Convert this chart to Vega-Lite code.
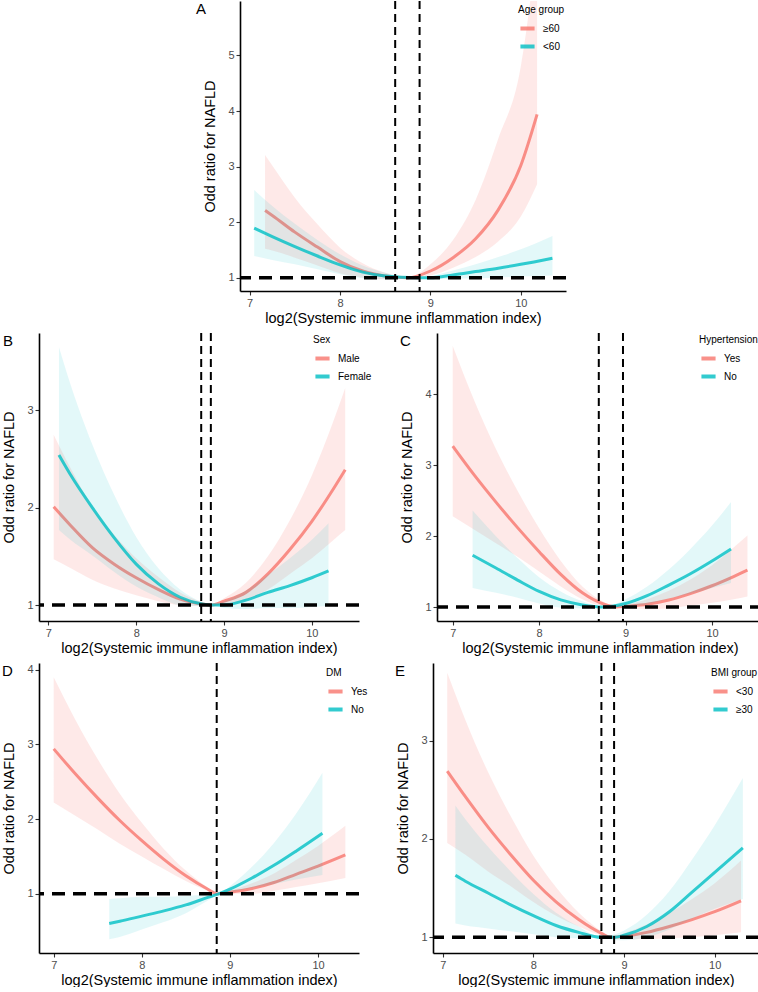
{
  "$schema": "https://vega.github.io/schema/vega-lite/v6.json",
  "padding": {"left": 1, "top": 0, "right": 0, "bottom": 0},
  "datasets": {
    "A": [
      {"g": "≥60", "x": 7.17, "y": 2.21, "lo": 1.52, "hi": 3.21},
      {"g": "≥60", "x": 7.25, "y": 2.12, "lo": 1.49, "hi": 3.02},
      {"g": "≥60", "x": 7.5, "y": 1.82, "lo": 1.36, "hi": 2.44},
      {"g": "≥60", "x": 7.75, "y": 1.55, "lo": 1.22, "hi": 1.96},
      {"g": "≥60", "x": 8.0, "y": 1.29, "lo": 1.08, "hi": 1.54},
      {"g": "≥60", "x": 8.25, "y": 1.12, "lo": 1.0, "hi": 1.26},
      {"g": "≥60", "x": 8.5, "y": 1.03, "lo": 0.97, "hi": 1.09},
      {"g": "≥60", "x": 8.75, "y": 1.0, "lo": 1.0, "hi": 1.0},
      {"g": "≥60", "x": 9.0, "y": 1.12, "lo": 1.04, "hi": 1.24},
      {"g": "≥60", "x": 9.25, "y": 1.36, "lo": 1.18, "hi": 1.68},
      {"g": "≥60", "x": 9.5, "y": 1.7, "lo": 1.37, "hi": 2.4},
      {"g": "≥60", "x": 9.75, "y": 2.22, "lo": 1.65, "hi": 3.5},
      {"g": "≥60", "x": 10.0, "y": 3.02, "lo": 2.1, "hi": 4.8},
      {"g": "≥60", "x": 10.18, "y": 3.94, "lo": 2.68, "hi": 7.0},
      {"g": "<60", "x": 7.05, "y": 1.89, "lo": 1.39, "hi": 2.58},
      {"g": "<60", "x": 7.25, "y": 1.74, "lo": 1.32, "hi": 2.29},
      {"g": "<60", "x": 7.5, "y": 1.56, "lo": 1.24, "hi": 1.97},
      {"g": "<60", "x": 7.75, "y": 1.39, "lo": 1.15, "hi": 1.68},
      {"g": "<60", "x": 8.0, "y": 1.23, "lo": 1.06, "hi": 1.42},
      {"g": "<60", "x": 8.25, "y": 1.1, "lo": 0.99, "hi": 1.22},
      {"g": "<60", "x": 8.5, "y": 1.03, "lo": 0.97, "hi": 1.09},
      {"g": "<60", "x": 8.85, "y": 1.0, "lo": 1.0, "hi": 1.0},
      {"g": "<60", "x": 9.0, "y": 1.0, "lo": 0.97, "hi": 1.03},
      {"g": "<60", "x": 9.25, "y": 1.05, "lo": 0.98, "hi": 1.13},
      {"g": "<60", "x": 9.5, "y": 1.11, "lo": 0.99, "hi": 1.24},
      {"g": "<60", "x": 9.75, "y": 1.17, "lo": 1.0, "hi": 1.37},
      {"g": "<60", "x": 10.0, "y": 1.24, "lo": 1.02, "hi": 1.51},
      {"g": "<60", "x": 10.35, "y": 1.35, "lo": 1.04, "hi": 1.75}
    ],
    "B": [
      {"g": "Male", "x": 7.06, "y": 2.01, "lo": 1.47, "hi": 2.75},
      {"g": "Male", "x": 7.25, "y": 1.82, "lo": 1.38, "hi": 2.41},
      {"g": "Male", "x": 7.5, "y": 1.59, "lo": 1.26, "hi": 2.01},
      {"g": "Male", "x": 7.75, "y": 1.42, "lo": 1.17, "hi": 1.72},
      {"g": "Male", "x": 8.0, "y": 1.28, "lo": 1.1, "hi": 1.48},
      {"g": "Male", "x": 8.25, "y": 1.16, "lo": 1.04, "hi": 1.29},
      {"g": "Male", "x": 8.5, "y": 1.06, "lo": 1.0, "hi": 1.13},
      {"g": "Male", "x": 8.75, "y": 1.01, "lo": 0.99, "hi": 1.03},
      {"g": "Male", "x": 8.85, "y": 1.0, "lo": 1.0, "hi": 1.0},
      {"g": "Male", "x": 9.0, "y": 1.04, "lo": 1.0, "hi": 1.07},
      {"g": "Male", "x": 9.25, "y": 1.13, "lo": 1.05, "hi": 1.23},
      {"g": "Male", "x": 9.5, "y": 1.32, "lo": 1.16, "hi": 1.5},
      {"g": "Male", "x": 9.75, "y": 1.57, "lo": 1.32, "hi": 1.87},
      {"g": "Male", "x": 10.0, "y": 1.86, "lo": 1.48, "hi": 2.33},
      {"g": "Male", "x": 10.25, "y": 2.2, "lo": 1.67, "hi": 2.9},
      {"g": "Male", "x": 10.38, "y": 2.39, "lo": 1.77, "hi": 3.23},
      {"g": "Female", "x": 7.12, "y": 2.54, "lo": 1.77, "hi": 3.65},
      {"g": "Female", "x": 7.25, "y": 2.34, "lo": 1.67, "hi": 3.27},
      {"g": "Female", "x": 7.5, "y": 2.0, "lo": 1.51, "hi": 2.65},
      {"g": "Female", "x": 7.75, "y": 1.69, "lo": 1.34, "hi": 2.13},
      {"g": "Female", "x": 8.0, "y": 1.42, "lo": 1.19, "hi": 1.7},
      {"g": "Female", "x": 8.25, "y": 1.22, "lo": 1.08, "hi": 1.38},
      {"g": "Female", "x": 8.5, "y": 1.08, "lo": 1.0, "hi": 1.16},
      {"g": "Female", "x": 8.75, "y": 1.01, "lo": 0.99, "hi": 1.03},
      {"g": "Female", "x": 8.85, "y": 1.0, "lo": 1.0, "hi": 1.0},
      {"g": "Female", "x": 9.0, "y": 1.0, "lo": 0.97, "hi": 1.04},
      {"g": "Female", "x": 9.25, "y": 1.05, "lo": 0.96, "hi": 1.15},
      {"g": "Female", "x": 9.5, "y": 1.13, "lo": 0.97, "hi": 1.31},
      {"g": "Female", "x": 9.75, "y": 1.2, "lo": 0.97, "hi": 1.48},
      {"g": "Female", "x": 10.0, "y": 1.28, "lo": 0.98, "hi": 1.67},
      {"g": "Female", "x": 10.19, "y": 1.35, "lo": 0.99, "hi": 1.84}
    ],
    "C": [
      {"g": "Yes", "x": 7.0, "y": 3.27, "lo": 2.28, "hi": 4.68},
      {"g": "Yes", "x": 7.25, "y": 2.86, "lo": 2.09, "hi": 3.91},
      {"g": "Yes", "x": 7.5, "y": 2.48, "lo": 1.9, "hi": 3.23},
      {"g": "Yes", "x": 7.75, "y": 2.12, "lo": 1.71, "hi": 2.64},
      {"g": "Yes", "x": 8.0, "y": 1.78, "lo": 1.5, "hi": 2.11},
      {"g": "Yes", "x": 8.25, "y": 1.46, "lo": 1.29, "hi": 1.65},
      {"g": "Yes", "x": 8.5, "y": 1.2, "lo": 1.11, "hi": 1.29},
      {"g": "Yes", "x": 8.75, "y": 1.04, "lo": 1.01, "hi": 1.07},
      {"g": "Yes", "x": 8.9, "y": 1.0, "lo": 1.0, "hi": 1.0},
      {"g": "Yes", "x": 9.0, "y": 1.01, "lo": 0.99, "hi": 1.03},
      {"g": "Yes", "x": 9.25, "y": 1.04, "lo": 0.97, "hi": 1.11},
      {"g": "Yes", "x": 9.5, "y": 1.1, "lo": 0.98, "hi": 1.23},
      {"g": "Yes", "x": 9.75, "y": 1.19, "lo": 1.02, "hi": 1.39},
      {"g": "Yes", "x": 10.0, "y": 1.3, "lo": 1.06, "hi": 1.59},
      {"g": "Yes", "x": 10.25, "y": 1.43, "lo": 1.11, "hi": 1.84},
      {"g": "Yes", "x": 10.41, "y": 1.52, "lo": 1.15, "hi": 2.01},
      {"g": "No", "x": 7.23, "y": 1.73, "lo": 1.27, "hi": 2.36},
      {"g": "No", "x": 7.5, "y": 1.55, "lo": 1.2, "hi": 2.0},
      {"g": "No", "x": 7.75, "y": 1.38, "lo": 1.13, "hi": 1.69},
      {"g": "No", "x": 8.0, "y": 1.22, "lo": 1.05, "hi": 1.42},
      {"g": "No", "x": 8.25, "y": 1.1, "lo": 0.99, "hi": 1.22},
      {"g": "No", "x": 8.5, "y": 1.03, "lo": 0.98, "hi": 1.08},
      {"g": "No", "x": 8.75, "y": 1.0, "lo": 1.0, "hi": 1.0},
      {"g": "No", "x": 9.0, "y": 1.05, "lo": 1.0, "hi": 1.11},
      {"g": "No", "x": 9.25, "y": 1.16, "lo": 1.04, "hi": 1.29},
      {"g": "No", "x": 9.5, "y": 1.31, "lo": 1.12, "hi": 1.53},
      {"g": "No", "x": 9.75, "y": 1.47, "lo": 1.19, "hi": 1.82},
      {"g": "No", "x": 10.0, "y": 1.65, "lo": 1.27, "hi": 2.15},
      {"g": "No", "x": 10.22, "y": 1.82, "lo": 1.34, "hi": 2.48}
    ],
    "D": [
      {"g": "Yes", "x": 7.0, "y": 2.94, "lo": 2.22, "hi": 3.9},
      {"g": "Yes", "x": 7.25, "y": 2.6, "lo": 2.04, "hi": 3.32},
      {"g": "Yes", "x": 7.5, "y": 2.28, "lo": 1.86, "hi": 2.8},
      {"g": "Yes", "x": 7.75, "y": 1.98, "lo": 1.67, "hi": 2.34},
      {"g": "Yes", "x": 8.0, "y": 1.71, "lo": 1.5, "hi": 1.95},
      {"g": "Yes", "x": 8.25, "y": 1.46, "lo": 1.33, "hi": 1.6},
      {"g": "Yes", "x": 8.5, "y": 1.24, "lo": 1.17, "hi": 1.31},
      {"g": "Yes", "x": 8.75, "y": 1.06, "lo": 1.04, "hi": 1.08},
      {"g": "Yes", "x": 8.85, "y": 1.0, "lo": 1.0, "hi": 1.0},
      {"g": "Yes", "x": 9.0, "y": 1.02, "lo": 1.0, "hi": 1.04},
      {"g": "Yes", "x": 9.25, "y": 1.07, "lo": 1.0, "hi": 1.14},
      {"g": "Yes", "x": 9.5, "y": 1.15, "lo": 1.04, "hi": 1.27},
      {"g": "Yes", "x": 9.75, "y": 1.26, "lo": 1.09, "hi": 1.45},
      {"g": "Yes", "x": 10.0, "y": 1.37, "lo": 1.14, "hi": 1.64},
      {"g": "Yes", "x": 10.31, "y": 1.52, "lo": 1.21, "hi": 1.91},
      {"g": "No", "x": 7.63, "y": 0.6, "lo": 0.39, "hi": 0.93},
      {"g": "No", "x": 7.75, "y": 0.63, "lo": 0.42, "hi": 0.94},
      {"g": "No", "x": 8.0, "y": 0.7, "lo": 0.52, "hi": 0.96},
      {"g": "No", "x": 8.25, "y": 0.77, "lo": 0.62, "hi": 0.96},
      {"g": "No", "x": 8.5, "y": 0.85, "lo": 0.74, "hi": 0.97},
      {"g": "No", "x": 8.75, "y": 0.95, "lo": 0.91, "hi": 0.99},
      {"g": "No", "x": 8.88, "y": 1.0, "lo": 1.0, "hi": 1.0},
      {"g": "No", "x": 9.0, "y": 1.06, "lo": 1.02, "hi": 1.1},
      {"g": "No", "x": 9.25, "y": 1.21, "lo": 1.08, "hi": 1.36},
      {"g": "No", "x": 9.5, "y": 1.38, "lo": 1.13, "hi": 1.68},
      {"g": "No", "x": 9.75, "y": 1.57, "lo": 1.19, "hi": 2.07},
      {"g": "No", "x": 10.05, "y": 1.81, "lo": 1.25, "hi": 2.62}
    ],
    "E": [
      {"g": "<30", "x": 7.05, "y": 2.69, "lo": 1.96, "hi": 3.69},
      {"g": "<30", "x": 7.25, "y": 2.43, "lo": 1.84, "hi": 3.21},
      {"g": "<30", "x": 7.5, "y": 2.12, "lo": 1.67, "hi": 2.68},
      {"g": "<30", "x": 7.75, "y": 1.84, "lo": 1.52, "hi": 2.23},
      {"g": "<30", "x": 8.0, "y": 1.58, "lo": 1.36, "hi": 1.83},
      {"g": "<30", "x": 8.25, "y": 1.36, "lo": 1.22, "hi": 1.51},
      {"g": "<30", "x": 8.5, "y": 1.18, "lo": 1.11, "hi": 1.25},
      {"g": "<30", "x": 8.75, "y": 1.04, "lo": 1.02, "hi": 1.06},
      {"g": "<30", "x": 8.85, "y": 1.0, "lo": 1.0, "hi": 1.0},
      {"g": "<30", "x": 9.0, "y": 1.01, "lo": 0.98, "hi": 1.04},
      {"g": "<30", "x": 9.25, "y": 1.05, "lo": 0.98, "hi": 1.13},
      {"g": "<30", "x": 9.5, "y": 1.11, "lo": 0.99, "hi": 1.25},
      {"g": "<30", "x": 9.75, "y": 1.18, "lo": 1.0, "hi": 1.39},
      {"g": "<30", "x": 10.0, "y": 1.26, "lo": 1.02, "hi": 1.55},
      {"g": "<30", "x": 10.29, "y": 1.37, "lo": 1.05, "hi": 1.78},
      {"g": "≥30", "x": 7.14, "y": 1.63, "lo": 1.14, "hi": 2.34},
      {"g": "≥30", "x": 7.25, "y": 1.57, "lo": 1.12, "hi": 2.2},
      {"g": "≥30", "x": 7.5, "y": 1.45, "lo": 1.09, "hi": 1.92},
      {"g": "≥30", "x": 7.75, "y": 1.33, "lo": 1.06, "hi": 1.67},
      {"g": "≥30", "x": 8.0, "y": 1.22, "lo": 1.03, "hi": 1.44},
      {"g": "≥30", "x": 8.25, "y": 1.12, "lo": 1.0, "hi": 1.25},
      {"g": "≥30", "x": 8.5, "y": 1.05, "lo": 0.99, "hi": 1.11},
      {"g": "≥30", "x": 8.75, "y": 1.0, "lo": 1.0, "hi": 1.0},
      {"g": "≥30", "x": 8.9, "y": 1.0, "lo": 0.97, "hi": 1.03},
      {"g": "≥30", "x": 9.0, "y": 1.02, "lo": 0.97, "hi": 1.07},
      {"g": "≥30", "x": 9.25, "y": 1.11, "lo": 1.0, "hi": 1.23},
      {"g": "≥30", "x": 9.5, "y": 1.26, "lo": 1.08, "hi": 1.47},
      {"g": "≥30", "x": 9.75, "y": 1.46, "lo": 1.19, "hi": 1.79},
      {"g": "≥30", "x": 10.0, "y": 1.66, "lo": 1.29, "hi": 2.14},
      {"g": "≥30", "x": 10.31, "y": 1.91, "lo": 1.39, "hi": 2.62}
    ],
    "A_k": [{"k": 8.61}, {"k": 8.88}],
    "B_k": [{"k": 8.74}, {"k": 8.85}],
    "C_k": [{"k": 8.69}, {"k": 8.97}],
    "D_k": [{"k": 8.85}],
    "E_k": [{"k": 8.75}, {"k": 8.89}],
    "ref": [{"ref": 1}]
  },
  "spacing": 7,
  "resolve": {"scale": {"color": "independent"}, "legend": {"color": "independent"}},
  "vconcat": [
    {
      "hconcat": [
        {"width": 157, "height": 10, "data": {"name": "ref"}, "mark": {"type": "point", "opacity": 0}, "encoding": {}},
        {
          "width": 326, "height": 290,
          "title": {"text": "A", "dx": -44},
          "layer": [
            {"data": {"name": "A"}, "transform": [{"filter": "datum.g === '≥60'"}],
             "mark": {"type": "area", "opacity": 0.16, "interpolate": "monotone", "clip": true},
             "encoding": {
               "x": {"field": "x", "type": "quantitative", "scale": {"domain": [6.893, 10.5], "nice": false, "zero": false}, "axis": {"values": [7, 8, 9, 10], "format": "d"}, "title": "log2(Systemic immune inflammation index)"},
               "y": {"field": "lo", "type": "quantitative", "scale": {"domain": [0.76, 5.98], "nice": false, "zero": false}, "axis": {"values": [1, 2, 3, 4, 5], "format": "d"}, "title": "Odd ratio for NAFLD"},
               "y2": {"field": "hi"},
               "color": {"field": "g", "type": "nominal", "scale": {"domain": ["≥60", "<60"], "range": ["#F8766D", "#00BFC4"]}, "legend": {"title": "Age group", "orient": "none", "legendX": 278, "legendY": 4}}}},
            {"data": {"name": "A"}, "transform": [{"filter": "datum.g === '≥60'"}],
             "mark": {"type": "line", "strokeWidth": 3, "opacity": 0.8, "interpolate": "monotone", "clip": true},
             "encoding": {
               "x": {"field": "x", "type": "quantitative", "title": "log2(Systemic immune inflammation index)"},
               "y": {"field": "y", "type": "quantitative", "title": "Odd ratio for NAFLD"},
               "color": {"field": "g", "type": "nominal", "scale": {"domain": ["≥60", "<60"], "range": ["#F8766D", "#00BFC4"]}, "legend": {"title": "Age group", "orient": "none", "legendX": 278, "legendY": 4}}}},
            {"data": {"name": "A"}, "transform": [{"filter": "datum.g === '<60'"}],
             "mark": {"type": "area", "opacity": 0.11, "interpolate": "monotone", "clip": true},
             "encoding": {
               "x": {"field": "x", "type": "quantitative", "title": "log2(Systemic immune inflammation index)"},
               "y": {"field": "lo", "type": "quantitative", "title": "Odd ratio for NAFLD"},
               "y2": {"field": "hi"},
               "color": {"field": "g", "type": "nominal", "scale": {"domain": ["≥60", "<60"], "range": ["#F8766D", "#00BFC4"]}, "legend": {"title": "Age group", "orient": "none", "legendX": 278, "legendY": 4}}}},
            {"data": {"name": "A"}, "transform": [{"filter": "datum.g === '<60'"}],
             "mark": {"type": "line", "strokeWidth": 3, "opacity": 0.8, "interpolate": "monotone", "clip": true},
             "encoding": {
               "x": {"field": "x", "type": "quantitative", "title": "log2(Systemic immune inflammation index)"},
               "y": {"field": "y", "type": "quantitative", "title": "Odd ratio for NAFLD"},
               "color": {"field": "g", "type": "nominal", "scale": {"domain": ["≥60", "<60"], "range": ["#F8766D", "#00BFC4"]}, "legend": {"title": "Age group", "orient": "none", "legendX": 278, "legendY": 4}}}},
            {"data": {"name": "ref"}, "mark": {"type": "rule", "color": "black", "strokeWidth": 3.5, "strokeDash": [13, 8]},
             "encoding": {"y": {"field": "ref", "type": "quantitative", "title": "Odd ratio for NAFLD"}}},
            {"data": {"name": "A_k"}, "mark": {"type": "rule", "color": "black", "strokeWidth": 2, "strokeDash": [8, 5]},
             "encoding": {"x": {"field": "k", "type": "quantitative", "title": "log2(Systemic immune inflammation index)"}}}
          ]
        }
      ],
      "spacing": 0,
      "resolve": {"scale": {"color": "independent"}, "legend": {"color": "independent"}}
    },
    {
      "hconcat": [
        {
          "width": 320, "height": 288,
          "title": {"text": "B", "dx": -36},
          "layer": [
            {"data": {"name": "B"}, "transform": [{"filter": "datum.g === 'Male'"}],
             "mark": {"type": "area", "opacity": 0.16, "interpolate": "monotone", "clip": true},
             "encoding": {
               "x": {"field": "x", "type": "quantitative", "scale": {"domain": [6.893, 10.537], "nice": false, "zero": false}, "axis": {"values": [7, 8, 9, 10], "format": "d"}, "title": "log2(Systemic immune inflammation index)"},
               "y": {"field": "lo", "type": "quantitative", "scale": {"domain": [0.836, 3.794], "nice": false, "zero": false}, "axis": {"values": [1, 2, 3], "format": "d"}, "title": "Odd ratio for NAFLD"},
               "y2": {"field": "hi"},
               "color": {"field": "g", "type": "nominal", "scale": {"domain": ["Male", "Female"], "range": ["#F8766D", "#00BFC4"]}, "legend": {"title": "Sex", "orient": "none", "legendX": 274, "legendY": 2}}}},
            {"data": {"name": "B"}, "transform": [{"filter": "datum.g === 'Male'"}],
             "mark": {"type": "line", "strokeWidth": 3, "opacity": 0.8, "interpolate": "monotone", "clip": true},
             "encoding": {
               "x": {"field": "x", "type": "quantitative", "title": "log2(Systemic immune inflammation index)"},
               "y": {"field": "y", "type": "quantitative", "title": "Odd ratio for NAFLD"},
               "color": {"field": "g", "type": "nominal", "scale": {"domain": ["Male", "Female"], "range": ["#F8766D", "#00BFC4"]}, "legend": {"title": "Sex", "orient": "none", "legendX": 274, "legendY": 2}}}},
            {"data": {"name": "B"}, "transform": [{"filter": "datum.g === 'Female'"}],
             "mark": {"type": "area", "opacity": 0.11, "interpolate": "monotone", "clip": true},
             "encoding": {
               "x": {"field": "x", "type": "quantitative", "title": "log2(Systemic immune inflammation index)"},
               "y": {"field": "lo", "type": "quantitative", "title": "Odd ratio for NAFLD"},
               "y2": {"field": "hi"},
               "color": {"field": "g", "type": "nominal", "scale": {"domain": ["Male", "Female"], "range": ["#F8766D", "#00BFC4"]}, "legend": {"title": "Sex", "orient": "none", "legendX": 274, "legendY": 2}}}},
            {"data": {"name": "B"}, "transform": [{"filter": "datum.g === 'Female'"}],
             "mark": {"type": "line", "strokeWidth": 3, "opacity": 0.8, "interpolate": "monotone", "clip": true},
             "encoding": {
               "x": {"field": "x", "type": "quantitative", "title": "log2(Systemic immune inflammation index)"},
               "y": {"field": "y", "type": "quantitative", "title": "Odd ratio for NAFLD"},
               "color": {"field": "g", "type": "nominal", "scale": {"domain": ["Male", "Female"], "range": ["#F8766D", "#00BFC4"]}, "legend": {"title": "Sex", "orient": "none", "legendX": 274, "legendY": 2}}}},
            {"data": {"name": "ref"}, "mark": {"type": "rule", "color": "black", "strokeWidth": 3.5, "strokeDash": [13, 8]},
             "encoding": {"y": {"field": "ref", "type": "quantitative", "title": "Odd ratio for NAFLD"}}},
            {"data": {"name": "B_k"}, "mark": {"type": "rule", "color": "black", "strokeWidth": 2, "strokeDash": [8, 5]},
             "encoding": {"x": {"field": "k", "type": "quantitative", "title": "log2(Systemic immune inflammation index)"}}}
          ]
        },
        {
          "width": 326, "height": 288,
          "title": {"text": "C", "dx": -37},
          "layer": [
            {"data": {"name": "C"}, "transform": [{"filter": "datum.g === 'Yes'"}],
             "mark": {"type": "area", "opacity": 0.16, "interpolate": "monotone", "clip": true},
             "encoding": {
               "x": {"field": "x", "type": "quantitative", "scale": {"domain": [6.818, 10.59], "nice": false, "zero": false}, "axis": {"values": [7, 8, 9, 10], "format": "d"}, "title": "log2(Systemic immune inflammation index)"},
               "y": {"field": "lo", "type": "quantitative", "scale": {"domain": [0.803, 4.865], "nice": false, "zero": false}, "axis": {"values": [1, 2, 3, 4], "format": "d"}, "title": "Odd ratio for NAFLD"},
               "y2": {"field": "hi"},
               "color": {"field": "g", "type": "nominal", "scale": {"domain": ["Yes", "No"], "range": ["#F8766D", "#00BFC4"]}, "legend": {"title": "Hypertension", "orient": "none", "legendX": 262, "legendY": 2}}}},
            {"data": {"name": "C"}, "transform": [{"filter": "datum.g === 'Yes'"}],
             "mark": {"type": "line", "strokeWidth": 3, "opacity": 0.8, "interpolate": "monotone", "clip": true},
             "encoding": {
               "x": {"field": "x", "type": "quantitative", "title": "log2(Systemic immune inflammation index)"},
               "y": {"field": "y", "type": "quantitative", "title": "Odd ratio for NAFLD"},
               "color": {"field": "g", "type": "nominal", "scale": {"domain": ["Yes", "No"], "range": ["#F8766D", "#00BFC4"]}, "legend": {"title": "Hypertension", "orient": "none", "legendX": 262, "legendY": 2}}}},
            {"data": {"name": "C"}, "transform": [{"filter": "datum.g === 'No'"}],
             "mark": {"type": "area", "opacity": 0.11, "interpolate": "monotone", "clip": true},
             "encoding": {
               "x": {"field": "x", "type": "quantitative", "title": "log2(Systemic immune inflammation index)"},
               "y": {"field": "lo", "type": "quantitative", "title": "Odd ratio for NAFLD"},
               "y2": {"field": "hi"},
               "color": {"field": "g", "type": "nominal", "scale": {"domain": ["Yes", "No"], "range": ["#F8766D", "#00BFC4"]}, "legend": {"title": "Hypertension", "orient": "none", "legendX": 262, "legendY": 2}}}},
            {"data": {"name": "C"}, "transform": [{"filter": "datum.g === 'No'"}],
             "mark": {"type": "line", "strokeWidth": 3, "opacity": 0.8, "interpolate": "monotone", "clip": true},
             "encoding": {
               "x": {"field": "x", "type": "quantitative", "title": "log2(Systemic immune inflammation index)"},
               "y": {"field": "y", "type": "quantitative", "title": "Odd ratio for NAFLD"},
               "color": {"field": "g", "type": "nominal", "scale": {"domain": ["Yes", "No"], "range": ["#F8766D", "#00BFC4"]}, "legend": {"title": "Hypertension", "orient": "none", "legendX": 262, "legendY": 2}}}},
            {"data": {"name": "ref"}, "mark": {"type": "rule", "color": "black", "strokeWidth": 3.5, "strokeDash": [13, 8]},
             "encoding": {"y": {"field": "ref", "type": "quantitative", "title": "Odd ratio for NAFLD"}}},
            {"data": {"name": "C_k"}, "mark": {"type": "rule", "color": "black", "strokeWidth": 2, "strokeDash": [8, 5]},
             "encoding": {"x": {"field": "k", "type": "quantitative", "title": "log2(Systemic immune inflammation index)"}}}
          ]
        }
      ],
      "spacing": 27,
      "resolve": {"scale": {"color": "independent"}, "legend": {"color": "independent"}}
    },
    {
      "hconcat": [
        {
          "width": 320, "height": 290,
          "title": {"text": "D", "dx": -37},
          "layer": [
            {"data": {"name": "D"}, "transform": [{"filter": "datum.g === 'Yes'"}],
             "mark": {"type": "area", "opacity": 0.16, "interpolate": "monotone", "clip": true},
             "encoding": {
               "x": {"field": "x", "type": "quantitative", "scale": {"domain": [6.833, 10.465], "nice": false, "zero": false}, "axis": {"values": [7, 8, 9, 10], "format": "d"}, "title": "log2(Systemic immune inflammation index)"},
               "y": {"field": "lo", "type": "quantitative", "scale": {"domain": [0.206, 4.09], "nice": false, "zero": false}, "axis": {"values": [1, 2, 3, 4], "format": "d"}, "title": "Odd ratio for NAFLD"},
               "y2": {"field": "hi"},
               "color": {"field": "g", "type": "nominal", "scale": {"domain": ["Yes", "No"], "range": ["#F8766D", "#00BFC4"]}, "legend": {"title": "DM", "orient": "none", "legendX": 287, "legendY": 5}}}},
            {"data": {"name": "D"}, "transform": [{"filter": "datum.g === 'Yes'"}],
             "mark": {"type": "line", "strokeWidth": 3, "opacity": 0.8, "interpolate": "monotone", "clip": true},
             "encoding": {
               "x": {"field": "x", "type": "quantitative", "title": "log2(Systemic immune inflammation index)"},
               "y": {"field": "y", "type": "quantitative", "title": "Odd ratio for NAFLD"},
               "color": {"field": "g", "type": "nominal", "scale": {"domain": ["Yes", "No"], "range": ["#F8766D", "#00BFC4"]}, "legend": {"title": "DM", "orient": "none", "legendX": 287, "legendY": 5}}}},
            {"data": {"name": "D"}, "transform": [{"filter": "datum.g === 'No'"}],
             "mark": {"type": "area", "opacity": 0.11, "interpolate": "monotone", "clip": true},
             "encoding": {
               "x": {"field": "x", "type": "quantitative", "title": "log2(Systemic immune inflammation index)"},
               "y": {"field": "lo", "type": "quantitative", "title": "Odd ratio for NAFLD"},
               "y2": {"field": "hi"},
               "color": {"field": "g", "type": "nominal", "scale": {"domain": ["Yes", "No"], "range": ["#F8766D", "#00BFC4"]}, "legend": {"title": "DM", "orient": "none", "legendX": 287, "legendY": 5}}}},
            {"data": {"name": "D"}, "transform": [{"filter": "datum.g === 'No'"}],
             "mark": {"type": "line", "strokeWidth": 3, "opacity": 0.8, "interpolate": "monotone", "clip": true},
             "encoding": {
               "x": {"field": "x", "type": "quantitative", "title": "log2(Systemic immune inflammation index)"},
               "y": {"field": "y", "type": "quantitative", "title": "Odd ratio for NAFLD"},
               "color": {"field": "g", "type": "nominal", "scale": {"domain": ["Yes", "No"], "range": ["#F8766D", "#00BFC4"]}, "legend": {"title": "DM", "orient": "none", "legendX": 287, "legendY": 5}}}},
            {"data": {"name": "ref"}, "mark": {"type": "rule", "color": "black", "strokeWidth": 3.5, "strokeDash": [13, 8]},
             "encoding": {"y": {"field": "ref", "type": "quantitative", "title": "Odd ratio for NAFLD"}}},
            {"data": {"name": "D_k"}, "mark": {"type": "rule", "color": "black", "strokeWidth": 2, "strokeDash": [8, 5]},
             "encoding": {"x": {"field": "k", "type": "quantitative", "title": "log2(Systemic immune inflammation index)"}}}
          ]
        },
        {
          "width": 326, "height": 290,
          "title": {"text": "E", "dx": -38},
          "layer": [
            {"data": {"name": "E"}, "transform": [{"filter": "datum.g === '<30'"}],
             "mark": {"type": "area", "opacity": 0.16, "interpolate": "monotone", "clip": true},
             "encoding": {
               "x": {"field": "x", "type": "quantitative", "scale": {"domain": [6.893, 10.488], "nice": false, "zero": false}, "axis": {"values": [7, 8, 9, 10], "format": "d"}, "title": "log2(Systemic immune inflammation index)"},
               "y": {"field": "lo", "type": "quantitative", "scale": {"domain": [0.84, 3.79], "nice": false, "zero": false}, "axis": {"values": [1, 2, 3], "format": "d"}, "title": "Odd ratio for NAFLD"},
               "y2": {"field": "hi"},
               "color": {"field": "g", "type": "nominal", "scale": {"domain": ["<30", "≥30"], "range": ["#F8766D", "#00BFC4"]}, "legend": {"title": "BMI group", "orient": "none", "legendX": 278, "legendY": 5}}}},
            {"data": {"name": "E"}, "transform": [{"filter": "datum.g === '<30'"}],
             "mark": {"type": "line", "strokeWidth": 3, "opacity": 0.8, "interpolate": "monotone", "clip": true},
             "encoding": {
               "x": {"field": "x", "type": "quantitative", "title": "log2(Systemic immune inflammation index)"},
               "y": {"field": "y", "type": "quantitative", "title": "Odd ratio for NAFLD"},
               "color": {"field": "g", "type": "nominal", "scale": {"domain": ["<30", "≥30"], "range": ["#F8766D", "#00BFC4"]}, "legend": {"title": "BMI group", "orient": "none", "legendX": 278, "legendY": 5}}}},
            {"data": {"name": "E"}, "transform": [{"filter": "datum.g === '≥30'"}],
             "mark": {"type": "area", "opacity": 0.11, "interpolate": "monotone", "clip": true},
             "encoding": {
               "x": {"field": "x", "type": "quantitative", "title": "log2(Systemic immune inflammation index)"},
               "y": {"field": "lo", "type": "quantitative", "title": "Odd ratio for NAFLD"},
               "y2": {"field": "hi"},
               "color": {"field": "g", "type": "nominal", "scale": {"domain": ["<30", "≥30"], "range": ["#F8766D", "#00BFC4"]}, "legend": {"title": "BMI group", "orient": "none", "legendX": 278, "legendY": 5}}}},
            {"data": {"name": "E"}, "transform": [{"filter": "datum.g === '≥30'"}],
             "mark": {"type": "line", "strokeWidth": 3, "opacity": 0.8, "interpolate": "monotone", "clip": true},
             "encoding": {
               "x": {"field": "x", "type": "quantitative", "title": "log2(Systemic immune inflammation index)"},
               "y": {"field": "y", "type": "quantitative", "title": "Odd ratio for NAFLD"},
               "color": {"field": "g", "type": "nominal", "scale": {"domain": ["<30", "≥30"], "range": ["#F8766D", "#00BFC4"]}, "legend": {"title": "BMI group", "orient": "none", "legendX": 278, "legendY": 5}}}},
            {"data": {"name": "ref"}, "mark": {"type": "rule", "color": "black", "strokeWidth": 3.5, "strokeDash": [13, 8]},
             "encoding": {"y": {"field": "ref", "type": "quantitative", "title": "Odd ratio for NAFLD"}}},
            {"data": {"name": "E_k"}, "mark": {"type": "rule", "color": "black", "strokeWidth": 2, "strokeDash": [8, 5]},
             "encoding": {"x": {"field": "k", "type": "quantitative", "title": "log2(Systemic immune inflammation index)"}}}
          ]
        }
      ],
      "spacing": 27,
      "resolve": {"scale": {"color": "independent"}, "legend": {"color": "independent"}}
    }
  ],
  "config": {
    "font": "Liberation Sans",
    "view": {"stroke": null},
    "axis": {"grid": false, "domainColor": "#000000", "domainWidth": 1.6, "tickColor": "#333333", "tickWidth": 1.1, "tickSize": 4, "labelColor": "#4D4D4D", "labelFontSize": 11, "labelPadding": 2, "titleFontSize": 14.5, "titleFontWeight": "normal", "titleColor": "#000000"},
    "axisX": {"titlePadding": 3},
    "axisY": {"titlePadding": 10},
    "legend": {"symbolType": "stroke", "symbolStrokeWidth": 4, "symbolSize": 200, "symbolOpacity": 0.8, "labelFontSize": 10, "titleFontSize": 10, "titleFontWeight": "normal", "titleColor": "#000000", "labelColor": "#000000", "rowPadding": 0, "titlePadding": 4, "padding": 0, "labelOffset": 6},
    "title": {"anchor": "start", "frame": "group", "orient": "top", "baseline": "top", "offset": -3, "dy": 14, "fontSize": 15, "fontWeight": "normal", "color": "#000000"}
  }
}
